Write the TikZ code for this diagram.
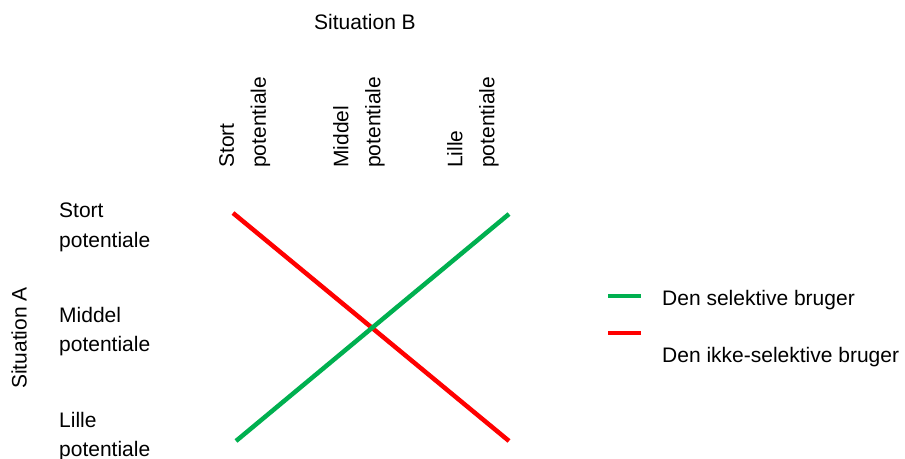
\documentclass[tikz,border=0pt]{standalone}
\usepackage{fontspec}
\setmainfont{Liberation Sans}
\definecolor{selgreen}{RGB}{0,176,80}
\definecolor{nselred}{RGB}{255,0,0}
\begin{document}
\begin{tikzpicture}[x=1pt,y=-1pt,
  lbl/.style={inner sep=0pt,align=left,font=\fontsize{21}{29.5}\selectfont},
  toplbl/.style={lbl,rotate=90,anchor=north west,font=\fontsize{21}{32}\selectfont},
  sidelbl/.style={lbl,anchor=north west},
  curve/.style={line width=4.5pt},
  legline/.style={line width=4.5pt}]
\useasboundingbox (0,0) rectangle (905,458);
\node[lbl] (sitB) at (365,22) {Situation B};
\node[lbl,rotate=90] (sitA) at (19,338) {Situation A};
\node[toplbl] (tStort) at (219,168) {Stort\\potentiale};
\node[toplbl] (tMiddel) at (333,168) {Middel\\potentiale};
\node[toplbl] (tLille) at (447,168) {Lille\\potentiale};
\node[sidelbl] (sStort) at (59,203) {Stort\\potentiale};
\node[sidelbl] (sMiddel) at (59,307) {Middel\\potentiale};
\node[sidelbl] (sLille) at (59,412) {Lille\\potentiale};
\coordinate (r1) at (233,213);
\coordinate (r2) at (509,441);
\coordinate (g1) at (236,441);
\coordinate (g2) at (509,214);
\draw[curve,nselred] (r1) -- (r2);
\draw[curve,selgreen] (g1) -- (g2);
\coordinate (lg1) at (608,296);
\coordinate (lg2) at (641,296);
\coordinate (lr1) at (608,333);
\coordinate (lr2) at (641,333);
\draw[legline,selgreen] (lg1) -- (lg2);
\draw[legline,nselred] (lr1) -- (lr2);
\node[lbl,anchor=base west] (legG) at (662,305) {Den selektive bruger};
\node[lbl,anchor=base west] (legR) at (662,362) {Den ikke-selektive bruger};
\end{tikzpicture}
\end{document}
